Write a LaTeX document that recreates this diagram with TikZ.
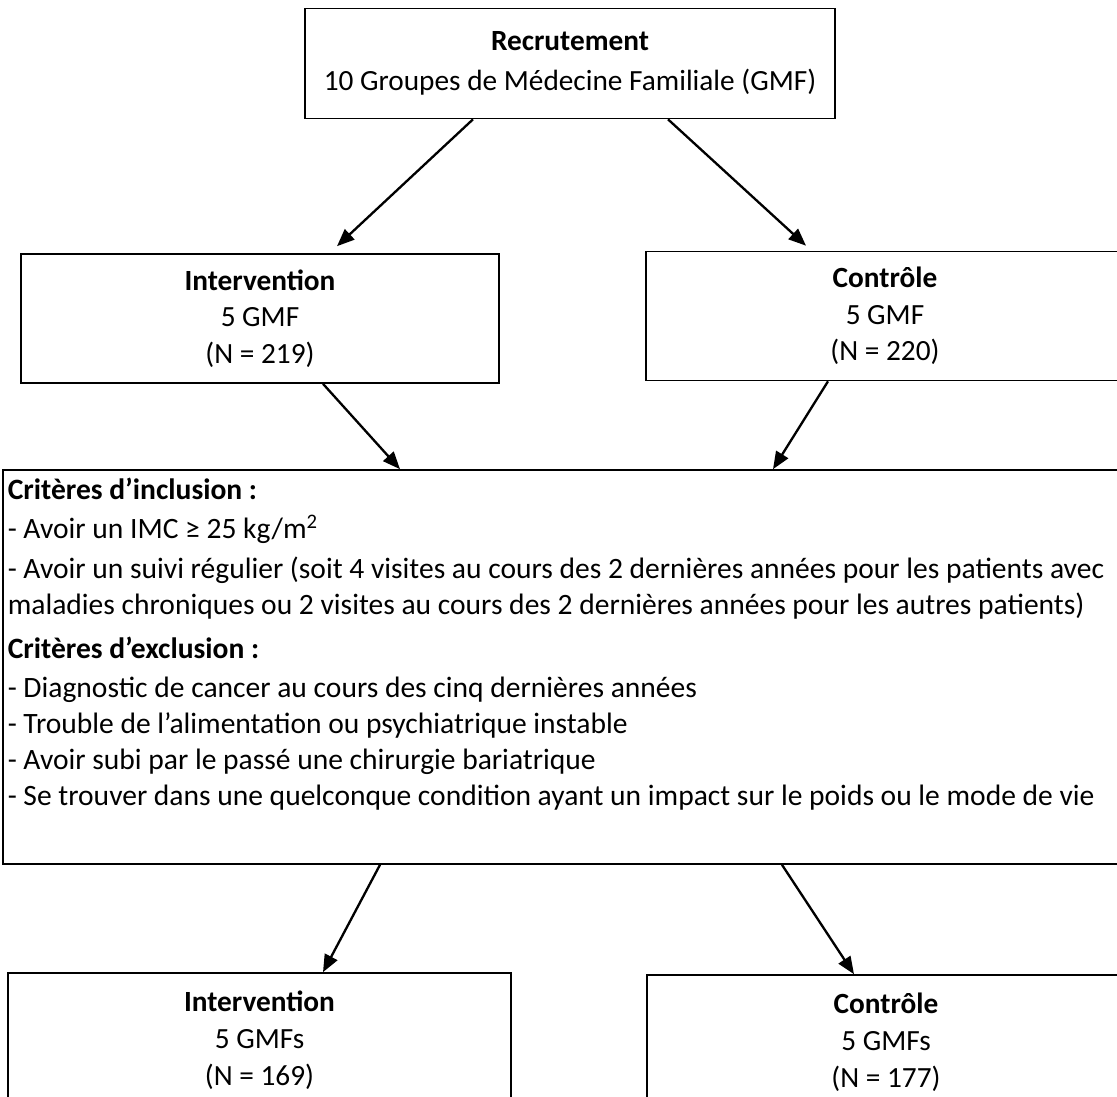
\documentclass[tikz,border=0pt]{standalone}
\usepackage{fontspec}
\setmainfont{Carlito}
\usetikzlibrary{arrows.meta,positioning,calc}
\newcommand{\pxu}{0.43pt}
\tikzset{
  frame/.style={draw=black, line width=0.7pt, rectangle, inner sep=0pt},
  group/.style={frame, align=center, font=\fontsize{12.6}{15.8}\selectfont},
  crittxt/.style={align=left, inner sep=0pt, font=\fontsize{12.7}{15.5}\selectfont},
  flow/.style={draw, line width=1pt, -{Triangle[length=7.5pt,width=6pt]}},
}

\begin{document}
\begin{tikzpicture}[x=0.43pt, y=-0.43pt]
\useasboundingbox (0,0) rectangle (1117,1097);

% recrutement
\node[group, font=\fontsize{12.6}{17}\selectfont, minimum width=530*\pxu, minimum height=110*\pxu] (rec) at (570,63.5) {\textbf{Recrutement}\\10 Groupes de Médecine Familiale (GMF)};

% groupes
\node[group, minimum width=478*\pxu, minimum height=129*\pxu] (int1) at (260,318.5) {\textbf{Intervention}\\5 GMF\\(N = 219)};
\node[group, minimum width=478*\pxu, minimum height=129*\pxu] (ctl1) at (885,316) {\textbf{Contrôle}\\5 GMF\\(N = 220)};

% criteres
\node[frame, minimum width=1122*\pxu, minimum height=394*\pxu] (crit) at (564,667) {};
\node[crittxt, below right=3.6pt and 2.2pt of crit.north west] (critlist) {%
  \textbf{Critères d’inclusion :}\\[1.3pt]
  - Avoir un IMC ≥ 25 kg/m\textsuperscript{2}\\[1.7pt]
  - Avoir un suivi régulier (soit 4 visites au cours des 2 dernières années pour les patients avec\\
  maladies chroniques ou 2 visites au cours des 2 dernières années pour les autres patients)\\[3.4pt]
  \textbf{Critères d’exclusion :}\\[1.3pt]
  - Diagnostic de cancer au cours des cinq dernières années\\
  - Trouble de l’alimentation ou psychiatrique instable\\
  - Avoir subi par le passé une chirurgie bariatrique\\
  - Se trouver dans une quelconque condition ayant un impact sur le poids ou le mode de vie};

% suivi
\node[group, minimum width=503*\pxu, minimum height=134*\pxu] (int2) at (259.5,1040) {\textbf{Intervention}\\5 GMFs\\(N = 169)};
\node[group, minimum width=478*\pxu, minimum height=134*\pxu] (ctl2) at (886,1042) {\textbf{Contrôle}\\5 GMFs\\(N = 177)};

\draw[flow] ($(rec.south)+(-97,0)$) -- ($(int1.north)+(77,-7)$);
\draw[flow] ($(rec.south)+(98,0)$) -- ($(ctl1.north)+(-79,-5)$);
\draw[flow] ($(int1.south)+(63,0)$) -- ($(crit.north)+(-164,0)$);
\draw[flow] ($(ctl1.south)+(-57,0)$) -- ($(crit.north)+(209,0)$);
\draw[flow] ($(crit.south)+(-184,0)$) -- ($(int2.north)+(63.5,0)$);
\draw[flow] ($(crit.south)+(218,0)$) -- ($(ctl2.north)+(-32,0)$);
\end{tikzpicture}
\end{document}
